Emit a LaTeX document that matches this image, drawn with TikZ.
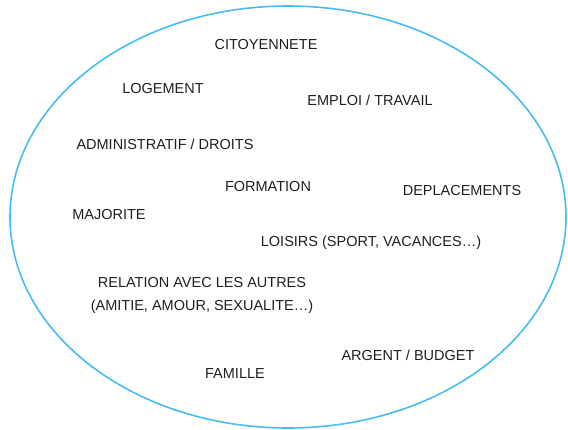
\documentclass[tikz,border=0pt]{standalone}
\usepackage{fontspec}
\setmainfont{Liberation Sans}
\usetikzlibrary{shapes.geometric}
\definecolor{ringblue}{RGB}{70,188,240}
\begin{document}
\begin{tikzpicture}[x=1pt,y=-1pt,
  lbl/.style={font=\fontsize{14.5}{17}\selectfont, text=black!88, anchor=center, inner sep=0pt},
  ring/.style={draw=ringblue, line width=1.6pt}]
\useasboundingbox (0,0) rectangle (568,430);
\node[ring, ellipse, minimum width=556pt, minimum height=422pt, inner sep=0pt] (e) at (288,217) {};
\node[lbl] (cit) at (266,45) {CITOYENNETE};
\node[lbl] (log) at (163,89) {LOGEMENT};
\node[lbl] (emp) at (370,100) {EMPLOI / TRAVAIL};
\node[lbl] (adm) at (165,144) {ADMINISTRATIF / DROITS};
\node[lbl] (for) at (268,187) {FORMATION};
\node[lbl] (dep) at (462,191) {DEPLACEMENTS};
\node[lbl] (maj) at (109,215) {MAJORITE};
\node[lbl] (loi) at (371,243) {LOISIRS (SPORT, VACANCES…)};
\node[lbl] (rel) at (202,283) {RELATION AVEC LES AUTRES};
\node[lbl] (ami) at (202,307) {(AMITIE, AMOUR, SEXUALITE…)};
\node[lbl] (arg) at (408,355) {ARGENT / BUDGET};
\node[lbl] (fam) at (235,374) {FAMILLE};
\end{tikzpicture}
\end{document}
